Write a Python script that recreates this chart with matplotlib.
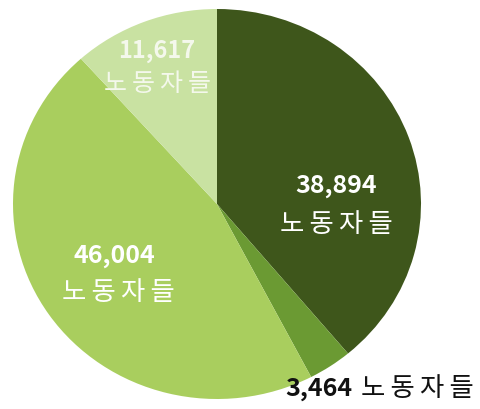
import matplotlib.pyplot as plt

plt.rcParams['font.family'] = ['Noto Sans CJK KR', 'DejaVu Sans']

# data
values = [38894, 3464, 46004, 11617]
value_labels = ['38,894', '3,464', '46,004', '11,617']
unit = '노동자들'
colors = ['#3e561b', '#6b9a33', '#a9ce5e', '#c9e2a2']

# the original has airy letter spacing on the Korean word
unit_spaced = '\u2009'.join(unit)

fig = plt.figure(figsize=(4.81, 4.10), dpi=100)
ax = fig.add_axes([13 / 481, 10 / 410, 408 / 481, 390 / 410])
ax.pie(values, colors=colors, startangle=90, counterclock=False,
       wedgeprops=dict(linewidth=0))
ax.set_aspect('auto')
ax.set_xlim(-1, 1)
ax.set_ylim(-1, 1)


def px(x, y):
    # figure pixel -> figure fraction
    return x / 481, 1 - y / 410


# 38,894 (dark slice)
fig.text(*px(336, 186), value_labels[0], color='white', fontsize=18,
         fontweight='bold', ha='center', va='center')
fig.text(*px(336, 224), unit_spaced, color='white', fontsize=19,
         ha='center', va='center')

# 46,004
fig.text(*px(114, 256), value_labels[2], color='white', fontsize=18,
         fontweight='bold', ha='center', va='center')
fig.text(*px(118, 293), unit_spaced, color='white', fontsize=19,
         ha='center', va='center')

# 11,617 (faded)
fig.text(*px(157, 51), value_labels[3], color='#f4f8ec', fontsize=17,
         fontweight='bold', ha='center', va='center')
fig.text(*px(158, 84), unit_spaced, color='#f4f8ec', fontsize=18,
         ha='center', va='center')

# 3,464 outside
fig.text(*px(352, 389), value_labels[1], color='#111111', fontsize=18,
         fontweight='bold', ha='right', va='center')
fig.text(*px(361, 389), unit_spaced, color='#111111', fontsize=19,
         ha='left', va='center')

fig.savefig('out.png', dpi=100)
